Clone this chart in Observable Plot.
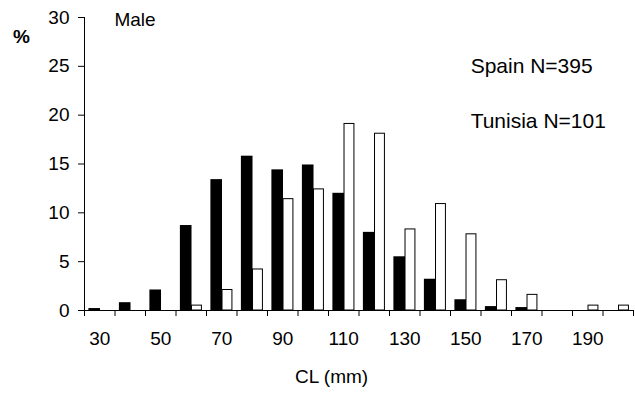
<!DOCTYPE html>
<html>
<head>
<meta charset="utf-8">
<script src="https://cdn.jsdelivr.net/npm/d3@7"></script>
<script src="https://cdn.jsdelivr.net/npm/@observablehq/plot@0.6"></script>
<style>
  html, body { margin: 0; padding: 0; background: #fff; }
  #chart svg { display: block; }
</style>
</head>
<body>
<div id="chart"></div>
<script>
// Size classes (CL, mm)
const cl = [30, 40, 50, 60, 70, 80, 90, 100, 110, 120, 130, 140, 150, 160, 170, 180, 190, 200];
// Percent of males per class
const spain   = [0.2, 0.8, 2.1, 8.7, 13.4, 15.8, 14.4, 14.9, 12.0, 8.0, 5.5, 3.2, 1.1, 0.4, 0.3, 0, 0, 0];
const tunisia = [0, 0, 0, 0.5, 2.1, 4.2, 11.4, 12.4, 19.1, 18.1, 8.3, 10.9, 7.8, 3.1, 1.6, 0, 0.5, 0.5];
// Axis ticks
const yTicks = [0, 5, 10, 15, 20, 25, 30];
const xLabels = [30, 50, 70, 90, 110, 130, 150, 170, 190];
const xBoundaries = [25, 35, 45, 55, 65, 75, 85, 95, 105, 115, 125, 135, 145, 155, 165, 175, 185, 195, 205];
// Texts
const panelTitle = "Male";
const yTitle = "%";
const xTitle = "CL (mm)";
const spainLabel = "Spain N=395";
const tunisiaLabel = "Tunisia N=101";

const spainRows = cl.map((c, i) => ({cl: c, v: spain[i]})).filter(d => d.v > 0);
const tunisiaRows = cl.map((c, i) => ({cl: c, v: tunisia[i]})).filter(d => d.v > 0);

const chart = Plot.plot({
  width: 635,
  height: 394,
  marginLeft: 84,
  marginRight: 2,
  marginTop: 17,
  marginBottom: 84,
  x: {domain: [25, 205]},
  y: {domain: [0, 30]},
  style: {fontFamily: "'Liberation Sans', Arial, sans-serif", fontSize: "19px", background: "#fff", color: "#000"},
  marks: [
    Plot.rectY(spainRows, {x1: d => d.cl - 3.56, x2: d => d.cl + 0.25, y1: 0, y2: "v", fill: "#000", inset: 0}),
    Plot.rectY(tunisiaRows, {x1: d => d.cl + 0.25, x2: d => d.cl + 3.5, y1: 0, y2: "v", fill: "#fff", stroke: "#000", strokeWidth: 1, inset: 0}),
    Plot.ruleY([0], {stroke: "#000", strokeWidth: 1}),
    Plot.ruleX([25], {y1: 0, y2: 30, stroke: "#000", strokeWidth: 1}),
    Plot.axisY({ticks: yTicks, tickSize: 6, tickPadding: 9, label: null, fontSize: 19}),
    Plot.axisX({ticks: xBoundaries, tickSize: 6, tickFormat: () => "", label: null}),
    Plot.axisX({ticks: xLabels, tickSize: 0, tickPadding: 21, label: null, fontSize: 19}),
    Plot.text([panelTitle], {x: 34.8, y: 29.74, text: d => d, textAnchor: "start", lineAnchor: "middle", fontSize: 19}),
    Plot.text([yTitle], {x: 4.3, y: 27.98, text: d => d, textAnchor: "middle", lineAnchor: "middle", fontSize: 19, fontWeight: "bold"}),
    Plot.text([spainLabel], {x: 151.6, y: 24.98, text: d => d, textAnchor: "start", lineAnchor: "middle", fontSize: 21}),
    Plot.text([tunisiaLabel], {x: 151.6, y: 19.37, text: d => d, textAnchor: "start", lineAnchor: "middle", fontSize: 21}),
    Plot.text([xTitle], {x: 106, y: -6.81, text: d => d, textAnchor: "middle", lineAnchor: "middle", fontSize: 19, clip: false})
  ]
});
document.getElementById("chart").appendChild(chart);
</script>
</body>
</html>
